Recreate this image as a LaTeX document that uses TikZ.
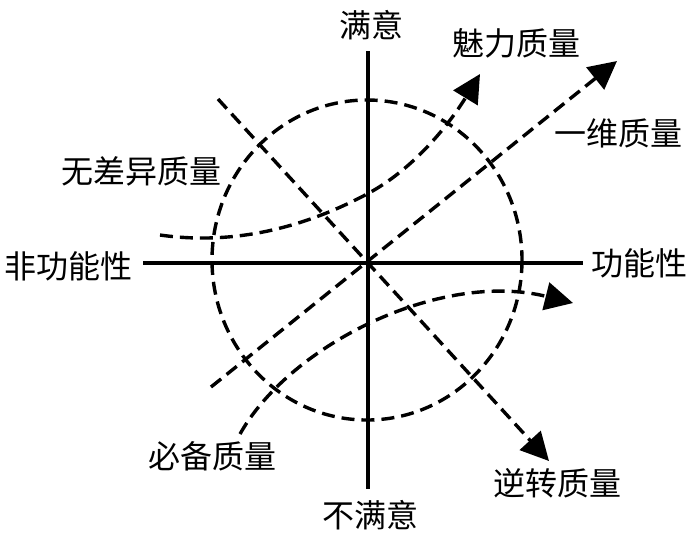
\documentclass[tikz,border=0pt]{standalone}
\usepackage{fontspec}
\setmainfont{Noto Sans CJK SC}
\usetikzlibrary{arrows.meta}
\begin{document}
\begin{tikzpicture}[
    x=0.5pt, y=-0.5pt,
    lbl/.style={inner sep=0pt, font=\fontsize{16}{16}\selectfont},
    axis/.style={line width=1.6pt},
    dashline/.style={line width=1.7pt, dash pattern=on 6.5pt off 3.5pt},
    arrow/.style={dashline, -{Triangle[length=14pt,width=14pt]}}
]
    \useasboundingbox (0,0) rectangle (700,543);

    % Labels
    \node[lbl] (sat) at (371,25) {满意};
    \node[lbl] (unsat) at (370,515) {不满意};
    \node[lbl] (func) at (639,263) {功能性};
    \node[lbl] (nonfunc) at (68,266) {非功能性};
    \node[lbl] (attr) at (516,43) {魅力质量};
    \node[lbl] (onedim) at (618,133) {一维质量};
    \node[lbl] (indiff) at (141,171) {无差异质量};
    \node[lbl] (must) at (212,456) {必备质量};
    \node[lbl] (rev) at (557,483) {逆转质量};

    % Axes
    \coordinate (xl) at (143,263);
    \coordinate (xr) at (583,263);
    \coordinate (yt) at (368,51);
    \coordinate (yb) at (368,489);
    \draw[axis] (xl) -- (xr);
    \draw[axis] (yt) -- (yb);

    % Circle
    \draw[dashline] (367,260) ellipse [x radius=155, y radius=160];

    % Quality curves
    \coordinate (onedimS) at (211,387);
    \coordinate (onedimE) at (617,61);
    \coordinate (revS) at (218,99);
    \coordinate (revE) at (549,461);
    \coordinate (attrS) at (160,235);
    \coordinate (attrM) at (369,193);
    \coordinate (attrE) at (480,74);
    \coordinate (mustS) at (240,434);
    \coordinate (mustE) at (573,303);

    \draw[arrow] (onedimS) -- (onedimE);
    \draw[arrow] (revS) -- (revE);
    \draw[arrow] (attrS) .. controls (230,245) and (300,230) .. (attrM)
        .. controls (420,165) and (455,115) .. (attrE);
    \draw[arrow] (mustS) .. controls (290,345) and (440,270) .. (mustE);
\end{tikzpicture}
\end{document}
